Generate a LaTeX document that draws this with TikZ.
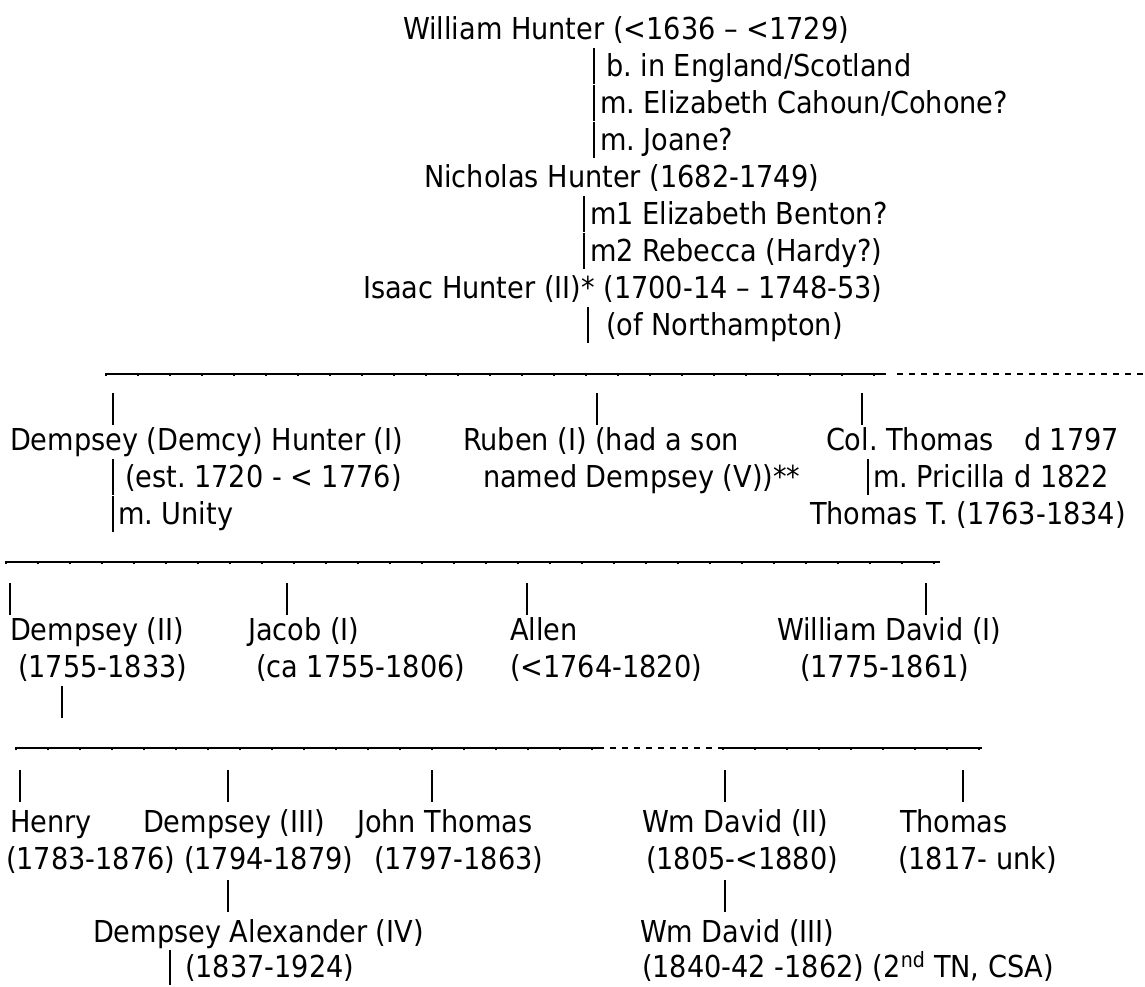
\documentclass[tikz,border=0pt]{standalone}
\usepackage{fontspec}
\setmainfont{DejaVu Sans Condensed}
\begin{document}
\frenchspacing
\begin{tikzpicture}[x=1pt,y=-1pt,
  txt/.style={anchor=base west, inner sep=0pt, outer sep=0pt, font=\frenchspacing\fontsize{30.2}{37}\selectfont},
  bar/.style={line width=1.4pt},
  rulesolid/.style={line width=1.8pt},
  ruleticks/.style={line width=3pt, dash pattern=on 2pt off 30pt},
  ruledash/.style={line width=2.2pt, dash pattern=on 6pt off 6pt}]
\useasboundingbox (0,0) rectangle (1145,986);

% ---- generations 0-2
\node[txt] (wh)   at (403,39)  {William Hunter (<1636 – <1729)};
\node[txt] (whb)  at (606,76)  {b. in England/Scotland};
\node[txt] (whm1) at (600,113) {m. Elizabeth Cahoun/Cohone?};
\node[txt] (whm2) at (600,150) {m. Joane?};
\node[txt] (nh)   at (424,187) {Nicholas Hunter (1682-1749)};
\node[txt] (nhm1) at (590,224) {m1 Elizabeth Benton?};
\node[txt] (nhm2) at (590,261) {m2 Rebecca (Hardy?)};
\node[txt] (ih)   at (363,298) {Isaac Hunter (II)* (1700-14 – 1748-53)};
\node[txt] (ihn)  at (606,335) {(of Northampton)};

\draw[bar] (594,48) -- (594,84);
\draw[bar] (594,85) -- (594,121);
\draw[bar] (594,122) -- (594,158);
\draw[bar] (584,196) -- (584,232);
\draw[bar] (584,233) -- (584,269);
\draw[bar] (588,307) -- (588,343);

% ---- rule 1
\coordinate (r1a) at (105,374);
\coordinate (r1b) at (886,374);
\coordinate (r1c) at (897,374);
\coordinate (r1d) at (1145,374);
\draw[rulesolid] (r1a) -- (r1b);
\draw[ruleticks] (r1a) -- (r1b);
\draw[ruledash] (r1c) -- (r1d);

\draw[bar] (113,393) -- (113,425);
\draw[bar] (597,393) -- (597,425);
\draw[bar] (862,393) -- (862,425);

% ---- generation 3
\node[txt] (dh)   at (10,450)  {Dempsey (Demcy) Hunter (I)};
\node[txt] (rb)   at (463,450) {Ruben (I) (had a son};
\node[txt] (ct)   at (826,450) {Col. Thomas\hspace{30pt}d 1797};
\node[txt] (dhd)  at (125,487) {(est. 1720 - < 1776)};
\node[txt] (rb2)  at (483,487) {named Dempsey (V))**};
\node[txt] (ctm)  at (873,487) {m. Pricilla d 1822};
\node[txt] (dhm)  at (118,524) {m. Unity};
\node[txt] (ctt)  at (810,524) {Thomas T. (1763-1834)};

\draw[bar] (113,459) -- (113,495);
\draw[bar] (113,496) -- (113,532);
\draw[bar] (868,459) -- (868,495);

% ---- rule 2
\coordinate (r2a) at (5,562);
\coordinate (r2b) at (940,562);
\draw[rulesolid] (r2a) -- (r2b);
\draw[ruleticks] (r2a) -- (r2b);

\draw[bar] (10,583) -- (10,615);
\draw[bar] (287,583) -- (287,615);
\draw[bar] (527,583) -- (527,615);
\draw[bar] (926,583) -- (926,615);

% ---- generation 4
\node[txt] (d2)  at (10,640)  {Dempsey (II)};
\node[txt] (jc)  at (248,640) {Jacob (I)};
\node[txt] (al)  at (510,640) {Allen};
\node[txt] (wd1) at (777,640) {William David (I)};
\node[txt] (d2d)  at (18,677)  {(1755-1833)};
\node[txt] (jcd)  at (256,677) {(ca 1755-1806)};
\node[txt] (ald)  at (510,677) {(<1764-1820)};
\node[txt] (wd1d) at (800,677) {(1775-1861)};

\draw[bar] (62,686) -- (62,718);

% ---- rule 3
\coordinate (r3a) at (15,748);
\coordinate (r3b) at (598,748);
\coordinate (r3c) at (722,748);
\coordinate (r3d) at (982,748);
\draw[rulesolid] (r3a) -- (r3b);
\draw[ruleticks] (r3a) -- (r3b);
\draw[ruledash] (r3b) -- (r3c);
\draw[rulesolid] (r3c) -- (r3d);
\draw[ruleticks] (r3c) -- (r3d);

\draw[bar] (20,770) -- (20,802);
\draw[bar] (228,770) -- (228,802);
\draw[bar] (432,770) -- (432,802);
\draw[bar] (725,770) -- (725,802);
\draw[bar] (963,770) -- (963,802);

% ---- generation 5
\node[txt] (hy)  at (10,832)  {Henry};
\node[txt] (d3)  at (143,832) {Dempsey (III)};
\node[txt] (jt)  at (357,832) {John Thomas};
\node[txt] (wd2) at (642,832) {Wm David (II)};
\node[txt] (th)  at (900,832) {Thomas};
\node[txt] (hyd)  at (6,869)   {(1783-1876)};
\node[txt] (d3d)  at (184,869) {(1794-1879)};
\node[txt] (jtd)  at (374,869) {(1797-1863)};
\node[txt] (wd2d) at (646,869) {(1805-<1880)};
\node[txt] (thd)  at (898,869) {(1817- unk)};

\draw[bar] (228,880) -- (228,912);
\draw[bar] (725,880) -- (725,912);

% ---- generation 6
\node[txt] (d4)  at (93,942)  {Dempsey Alexander (IV)};
\node[txt] (wd3) at (640,942) {Wm David (III)};
\node[txt] (d4d)  at (185,977) {(1837-1924)};
\node[txt] (wd3d) at (642,977) {(1840-42 -1862) (2\textsuperscript{nd} TN, CSA)};

\draw[bar] (170,950) -- (170,985);
\end{tikzpicture}
\end{document}
